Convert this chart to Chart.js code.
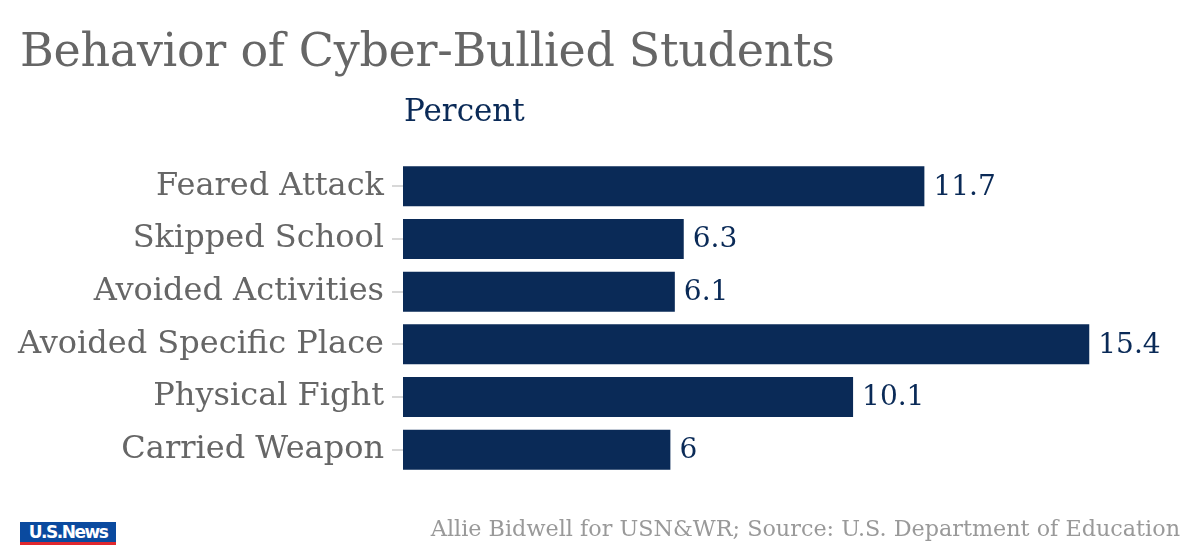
<!DOCTYPE html>
<html>
<head>
<meta charset="utf-8">
<script src="https://cdn.jsdelivr.net/npm/chart.js@4.4.1/dist/chart.umd.min.js"></script>
<style>
  html, body { margin:0; padding:0; background:#fff; width:1200px; height:550px; overflow:hidden; }
  #wrap { position:relative; width:1200px; height:550px; }
  #c { position:absolute; left:0; top:0; }
  .t { position:absolute; font-family:"DejaVu Serif", serif; white-space:nowrap; }
  #title { left:20px; top:23px; font-size:46px; color:#666; letter-spacing:-0.3px; }
  #sub { left:404px; top:92px; font-size:31px; color:#0a2a57; }
  #foot { right:20px; top:515px; font-size:22.3px; color:#999; }
  #logo { position:absolute; left:20px; top:522px; width:96px; height:20px; background:#0a4a9f; border-bottom:3px solid #e0282e; color:#fff; font-family:"DejaVu Sans", sans-serif; font-weight:bold; font-size:17px; line-height:20px; letter-spacing:-1.5px; text-align:center; box-sizing:content-box; }
</style>
</head>
<body>
<div id="wrap">
  <canvas id="c" width="1200" height="550"></canvas>
  <div class="t" id="title">Behavior of Cyber-Bullied Students</div>
  <div class="t" id="sub">Percent</div>
  <div id="logo">U.S.News</div>
  <div class="t" id="foot">Allie Bidwell for USN&amp;WR; Source: U.S. Department of Education</div>
</div>
<script>
const categories = ["Feared Attack", "Skipped School", "Avoided Activities", "Avoided Specific Place", "Physical Fight", "Carried Weapon"];
const percentValues = [11.7, 6.3, 6.1, 15.4, 10.1, 6];
const valueLabels = ["11.7", "6.3", "6.1", "15.4", "10.1", "6"];

const NAVY = "#0a2a57";
const FONT = "'DejaVu Serif', serif";

const valueLabelPlugin = {
  id: "valueLabels",
  afterDatasetsDraw(chart) {
    const ctx = chart.ctx;
    const meta = chart.getDatasetMeta(0);
    ctx.save();
    ctx.fillStyle = NAVY;
    ctx.font = "28px " + FONT;
    ctx.textAlign = "left";
    ctx.textBaseline = "middle";
    meta.data.forEach((bar, i) => {
      ctx.fillText(valueLabels[i], bar.x + 9, bar.y + 1);
    });
    ctx.restore();
  }
};

new Chart(document.getElementById("c"), {
  type: "bar",
  data: {
    labels: categories,
    datasets: [{
      data: percentValues,
      backgroundColor: NAVY,
      borderWidth: 0,
      barPercentage: 0.76,
      categoryPercentage: 1.0
    }]
  },
  options: {
    indexAxis: "y",
    responsive: false,
    animation: false,
    layout: { padding: { top: 160, bottom: 74, right: 84, left: 0 } },
    plugins: { legend: { display: false }, tooltip: { enabled: false }, title: { display: false } },
    scales: {
      x: { display: false, min: 0, max: 16 },
      y: {
        afterFit(s) { s.width = 403; },
        border: { display: false },
        grid: { offset: false, drawOnChartArea: false, drawTicks: true, tickLength: 11, color: "#d8d8d8", lineWidth: 2 },
        ticks: { color: "#666", font: { family: FONT, size: 32 }, padding: 8 }
      }
    }
  },
  plugins: [valueLabelPlugin]
});
</script>
</body>
</html>
